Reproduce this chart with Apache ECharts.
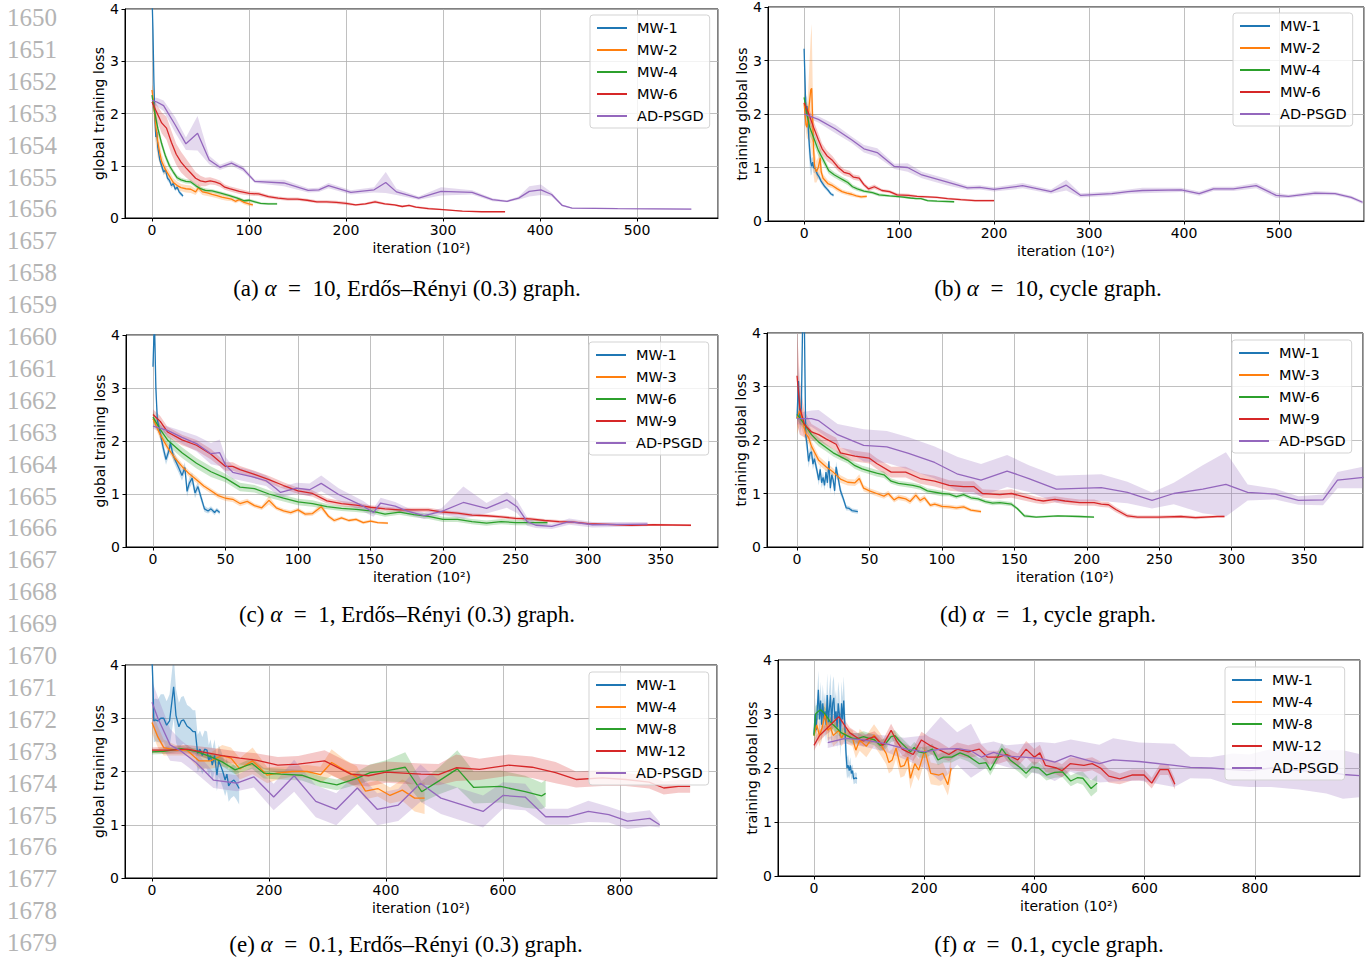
<!DOCTYPE html>
<html><head><meta charset="utf-8">
<script src="https://cdn.jsdelivr.net/npm/echarts@6/dist/echarts.min.js"></script>
<style>html,body{margin:0;padding:0;background:#fff}#c{width:1367px;height:962px}</style>
</head><body><div id="c"></div>
<script>
// ---------- data: each point is [iteration (10^2), mean loss, band half-width] ----------
const A_MW1=[[0,4.3,0.3],[1,3.6,0.3],[2,2.6,0.2],[3,1.9,0.15],[4,1.55,0.1],[5,1.65,0.1],[6,1.35,0.08],[8,1.12,0.07],[10,1.0,0.07],[12,0.88,0.06],[14,0.92,0.06],[16,0.76,0.05],[18,0.72,0.05],[20,0.62,0.05],[22,0.66,0.05],[24,0.55,0.04],[26,0.59,0.04],[28,0.5,0.04],[30,0.46,0.04],[32,0.42,0.03]];
const A_MW2=[[0,2.45,0.1],[2,2.15,0.3],[4,1.75,0.35],[6,1.45,0.3],[8,1.25,0.2],[10,1.08,0.15],[14,0.92,0.1],[18,0.8,0.1],[22,0.68,0.08],[26,0.62,0.08],[30,0.58,0.07],[35,0.56,0.07],[40,0.55,0.07],[45,0.5,0.06],[48,0.58,0.07],[52,0.5,0.06],[57,0.48,0.06],[62,0.45,0.05],[67,0.43,0.05],[72,0.4,0.05],[77,0.38,0.05],[82,0.36,0.04],[86,0.32,0.04],[90,0.35,0.04],[95,0.3,0.04],[100,0.27,0.04],[104,0.25,0.03]];
const A_MW4=[[0,2.35,0.08],[3,2.0,0.1],[6,1.72,0.1],[10,1.42,0.08],[14,1.18,0.07],[18,1.0,0.06],[22,0.88,0.05],[26,0.77,0.05],[30,0.73,0.04],[35,0.7,0.04],[40,0.69,0.04],[45,0.62,0.04],[50,0.56,0.04],[55,0.53,0.04],[62,0.52,0.03],[70,0.48,0.03],[80,0.43,0.03],[88,0.38,0.03],[95,0.33,0.03],[100,0.34,0.03],[106,0.31,0.03],[112,0.28,0.02],[120,0.27,0.02],[129,0.27,0.02]];
const A_MW6=[[0,2.22,0.1],[5,2.02,0.15],[10,1.82,0.2],[15,1.72,0.22],[20,1.45,0.22],[25,1.22,0.2],[30,1.07,0.2],[35,0.96,0.18],[40,0.86,0.15],[45,0.76,0.12],[50,0.71,0.1],[55,0.69,0.08],[60,0.71,0.07],[65,0.69,0.06],[70,0.66,0.06],[75,0.59,0.05],[80,0.56,0.05],[90,0.51,0.05],[100,0.47,0.04],[110,0.46,0.04],[120,0.41,0.03],[130,0.38,0.03],[140,0.36,0.03],[150,0.36,0.03],[160,0.34,0.03],[170,0.31,0.03],[180,0.31,0.03],[190,0.3,0.03],[200,0.28,0.03],[210,0.25,0.02],[220,0.27,0.02],[230,0.31,0.03],[240,0.27,0.02],[250,0.25,0.02],[258,0.22,0.02],[265,0.24,0.02],[272,0.21,0.02],[285,0.18,0.02],[300,0.16,0.01],[320,0.13,0.01],[340,0.12,0.01],[364,0.12,0.01]];
const A_AD=[[0,2.25,0.05],[5,2.22,0.08],[12,2.15,0.1],[24,1.78,0.15],[35,1.42,0.12],[47,1.62,0.33],[59,1.11,0.08],[70,0.97,0.05],[82,1.05,0.05],[94,0.94,0.05],[106,0.7,0.03],[136,0.67,0.06],[161,0.53,0.04],[172,0.54,0.04],[182,0.62,0.05],[205,0.49,0.04],[229,0.54,0.05],[241,0.68,0.2],[252,0.5,0.06],[275,0.38,0.03],[298,0.51,0.08],[330,0.49,0.04],[351,0.35,0.03],[366,0.32,0.02],[378,0.38,0.03],[389,0.51,0.1],[401,0.54,0.1],[412,0.45,0.04],[423,0.24,0.02],[433,0.19,0.01],[480,0.18,0.01],[556,0.17,0.01]];

const B_MW1=[[0,3.22,0.1],[1,2.6,0.4],[2,2.0,0.3],[3,2.15,0.2],[4,1.85,0.25],[5,1.55,0.3],[6,1.3,0.3],[7,1.1,0.25],[8,1.02,0.15],[9,1.1,0.1],[10,1.0,0.1],[12,0.97,0.08],[14,0.87,0.07],[16,0.82,0.06],[18,0.74,0.05],[20,0.69,0.05],[22,0.64,0.04],[24,0.6,0.04],[26,0.56,0.04],[28,0.51,0.03],[31,0.48,0.03]];
const B_MW2=[[0,2.2,0.1],[2,1.8,0.15],[3,1.75,0.2],[5,2.1,0.6],[7,2.45,1.0],[8,2.48,1.2],[9,1.9,0.7],[10,1.35,0.5],[11,1.02,0.3],[13,0.92,0.2],[15,1.0,0.2],[17,1.18,0.3],[18,0.92,0.15],[20,0.8,0.08],[25,0.7,0.06],[30,0.66,0.05],[35,0.6,0.05],[40,0.55,0.04],[45,0.52,0.04],[50,0.5,0.04],[55,0.47,0.03],[60,0.45,0.03],[66,0.46,0.03]];
const B_MW4=[[0,2.31,0.1],[3,2.0,0.15],[6,1.75,0.15],[10,1.56,0.12],[15,1.32,0.1],[20,1.15,0.08],[26,0.94,0.06],[32,0.86,0.05],[38,0.8,0.05],[42,0.76,0.05],[46,0.72,0.05],[51,0.64,0.04],[56,0.6,0.04],[63,0.56,0.03],[72,0.53,0.03],[79,0.49,0.03],[90,0.47,0.02],[102,0.45,0.02],[112,0.43,0.02],[118,0.42,0.02],[123,0.42,0.02],[130,0.38,0.02],[140,0.37,0.02],[158,0.36,0.02]];
const B_MW6=[[0,2.21,0.1],[5,2.0,0.12],[10,1.75,0.12],[15,1.52,0.12],[19,1.35,0.1],[24,1.22,0.1],[30,1.13,0.08],[36,1.0,0.07],[42,0.91,0.06],[48,0.88,0.06],[52,0.82,0.05],[58,0.8,0.05],[63,0.68,0.04],[68,0.6,0.04],[74,0.64,0.04],[82,0.57,0.03],[90,0.55,0.03],[98,0.49,0.03],[110,0.48,0.03],[119,0.46,0.02],[130,0.45,0.02],[140,0.44,0.02],[151,0.42,0.02],[165,0.4,0.02],[180,0.38,0.02],[200,0.38,0.02]];
const B_AD=[[0,2.0,0.05],[15,1.9,0.06],[33,1.72,0.08],[50,1.52,0.06],[63,1.35,0.07],[77,1.28,0.08],[95,1.02,0.05],[109,1.0,0.08],[124,0.86,0.06],[150,0.73,0.06],[172,0.62,0.04],[185,0.63,0.04],[200,0.59,0.04],[230,0.66,0.05],[260,0.55,0.04],[276,0.67,0.1],[291,0.48,0.04],[324,0.51,0.04],[341,0.55,0.04],[356,0.57,0.05],[397,0.58,0.04],[416,0.51,0.04],[431,0.6,0.04],[452,0.6,0.04],[476,0.66,0.05],[497,0.48,0.05],[510,0.46,0.03],[538,0.52,0.04],[559,0.51,0.03],[576,0.44,0.03],[588,0.35,0.03]];

const C_MW1=[[0,3.4,0.1],[1,4.3,0.2],[2,3.0,0.2],[3,2.4,0.15],[5,2.15,0.12],[7,1.88,0.12],[9,1.65,0.1],[11,1.82,0.1],[12,1.96,0.1],[14,1.72,0.1],[16,1.6,0.1],[18,1.48,0.1],[20,1.35,0.1],[22,1.5,0.1],[23.5,1.05,0.1],[25,1.2,0.1],[27,1.3,0.1],[29,1.02,0.1],[31,1.14,0.08],[33,0.95,0.08],[35.5,0.72,0.06],[38,0.68,0.05],[40,0.72,0.05],[42.5,0.65,0.05],[44,0.7,0.04],[46,0.65,0.04]];
const C_MW3=[[0,2.42,0.08],[5,2.12,0.08],[10,1.88,0.07],[15,1.68,0.07],[20,1.52,0.06],[25,1.38,0.06],[30,1.27,0.06],[35,1.15,0.05],[40,1.06,0.05],[45,0.97,0.05],[50,0.92,0.05],[55,0.9,0.05],[60,0.82,0.05],[65,0.86,0.05],[70,0.78,0.04],[75,0.74,0.04],[80,0.88,0.08],[85,0.74,0.04],[90,0.68,0.04],[95,0.65,0.04],[100,0.7,0.04],[105,0.62,0.04],[110,0.63,0.04],[116,0.76,0.06],[121,0.58,0.04],[125,0.5,0.04],[130,0.55,0.03],[135,0.5,0.03],[140,0.52,0.03],[145,0.46,0.03],[150,0.49,0.03],[155,0.46,0.02],[162,0.45,0.02]];
const C_MW6=[[0,2.45,0.1],[5,2.22,0.1],[10,2.02,0.1],[20,1.78,0.1],[30,1.58,0.1],[40,1.42,0.1],[50,1.3,0.08],[60,1.13,0.08],[70,1.1,0.07],[80,1.0,0.07],[90,0.92,0.06],[100,0.85,0.06],[110,0.82,0.06],[120,0.76,0.05],[130,0.73,0.05],[140,0.71,0.05],[150,0.68,0.05],[160,0.62,0.05],[170,0.66,0.05],[180,0.61,0.05],[190,0.58,0.05],[200,0.52,0.05],[210,0.52,0.05],[220,0.48,0.05],[230,0.45,0.05],[240,0.48,0.05],[250,0.46,0.05],[260,0.46,0.05],[272,0.46,0.05]];
const C_MW9=[[0,2.5,0.1],[5,2.37,0.1],[10,2.17,0.1],[20,2.02,0.1],[30,1.92,0.1],[40,1.75,0.1],[50,1.52,0.08],[55,1.52,0.08],[60,1.46,0.07],[70,1.37,0.07],[80,1.27,0.07],[90,1.16,0.06],[100,1.06,0.06],[110,1.01,0.06],[120,0.87,0.05],[130,0.82,0.05],[140,0.79,0.05],[150,0.75,0.04],[160,0.72,0.04],[170,0.7,0.04],[180,0.7,0.04],[190,0.7,0.04],[200,0.66,0.04],[210,0.64,0.03],[220,0.6,0.03],[230,0.59,0.03],[240,0.57,0.03],[250,0.54,0.03],[260,0.53,0.03],[270,0.5,0.03],[280,0.48,0.03],[290,0.47,0.03],[300,0.44,0.02],[310,0.43,0.02],[320,0.42,0.02],[330,0.41,0.02],[345,0.42,0.02],[371,0.41,0.02]];
const C_AD=[[0,2.28,0.05],[10,2.2,0.08],[20,2.07,0.12],[30,1.95,0.15],[40,1.76,0.2],[46,1.78,0.25],[50,1.55,0.15],[55,1.41,0.12],[68,1.33,0.12],[78,1.25,0.1],[85,1.1,0.1],[88,1.03,0.1],[99,1.11,0.1],[108,1.08,0.12],[116,1.2,0.15],[128,0.99,0.12],[145,0.77,0.1],[152,0.65,0.08],[157,0.83,0.1],[167,0.77,0.08],[176,0.67,0.06],[187,0.59,0.06],[199,0.67,0.06],[214,0.84,0.3],[230,0.73,0.1],[244,0.89,0.15],[251,0.76,0.12],[258,0.48,0.08],[264,0.41,0.05],[275,0.39,0.05],[287,0.48,0.06],[303,0.42,0.05],[341,0.43,0.04]];

const D_MW1=[[0,2.4,0.2],[1,3.1,0.3],[2,2.4,0.3],[3,2.6,0.3],[4,4.4,0.4],[5,4.4,0.4],[6,2.1,0.2],[7,1.9,0.15],[8,1.6,0.12],[9,1.75,0.12],[10,1.78,0.12],[11,1.55,0.1],[12,1.65,0.1],[14,1.4,0.1],[15,1.25,0.1],[16,1.45,0.1],[17,1.2,0.1],[18,1.3,0.1],[19,1.15,0.1],[20,1.4,0.1],[21,1.2,0.1],[22,1.6,0.1],[23,1.1,0.1],[24,1.35,0.1],[25,1.25,0.1],[26,1.05,0.1],[27,1.5,0.1],[28,1.35,0.1],[30,1.05,0.08],[32,0.9,0.06],[34,0.73,0.05],[36,0.72,0.04],[38,0.68,0.04],[40,0.67,0.04],[42,0.66,0.04]];
const D_MW3=[[0,2.4,0.3],[2,2.55,0.25],[4,2.35,0.2],[6,2.12,0.15],[8,2.05,0.12],[10,1.88,0.1],[15,1.62,0.08],[20,1.5,0.08],[25,1.4,0.07],[30,1.27,0.07],[35,1.21,0.06],[40,1.2,0.06],[43,1.28,0.08],[46,1.1,0.06],[50,1.05,0.05],[55,1.0,0.05],[60,0.95,0.05],[63,1.0,0.05],[67,0.88,0.05],[70,0.93,0.05],[75,0.9,0.05],[78,0.85,0.05],[82,0.97,0.06],[85,0.87,0.05],[88,0.92,0.05],[92,0.78,0.04],[95,0.8,0.04],[100,0.76,0.04],[105,0.75,0.04],[110,0.73,0.04],[115,0.75,0.04],[120,0.69,0.03],[127,0.66,0.03]];
const D_MW6=[[0,2.48,0.1],[5,2.3,0.1],[10,2.1,0.08],[15,1.96,0.08],[20,1.86,0.07],[25,1.76,0.07],[30,1.69,0.07],[35,1.62,0.06],[40,1.52,0.06],[45,1.46,0.06],[50,1.42,0.06],[55,1.38,0.06],[60,1.35,0.06],[65,1.23,0.05],[70,1.19,0.05],[80,1.15,0.05],[85,1.12,0.05],[90,1.05,0.05],[100,1.0,0.05],[105,0.99,0.04],[110,0.94,0.04],[115,0.98,0.04],[120,0.92,0.04],[125,0.9,0.04],[130,0.85,0.04],[135,0.82,0.04],[140,0.83,0.04],[148,0.8,0.04],[152,0.72,0.03],[157,0.58,0.03],[165,0.56,0.02],[180,0.58,0.02],[195,0.57,0.02],[205,0.56,0.02]];
const D_MW9=[[0,3.2,0.9],[2,2.6,0.5],[5,2.3,0.25],[10,2.15,0.15],[15,2.1,0.12],[20,2.02,0.12],[27,1.92,0.12],[30,1.76,0.1],[40,1.7,0.1],[50,1.66,0.1],[55,1.56,0.1],[65,1.4,0.1],[75,1.4,0.1],[85,1.28,0.1],[95,1.23,0.1],[105,1.15,0.1],[115,1.13,0.1],[122,1.13,0.1],[128,1.0,0.08],[140,0.98,0.08],[148,1.0,0.08],[155,0.95,0.07],[165,0.88,0.06],[170,0.86,0.06],[178,0.89,0.06],[185,0.86,0.06],[195,0.83,0.06],[205,0.83,0.06],[210,0.8,0.05],[215,0.79,0.05],[220,0.7,0.05],[228,0.58,0.04],[235,0.56,0.03],[250,0.56,0.03],[265,0.57,0.03],[275,0.55,0.03],[290,0.57,0.02],[295,0.57,0.02]];
const D_AD=[[0,2.4,0.1],[10,2.4,0.15],[15,2.36,0.2],[28,2.1,0.2],[46,1.9,0.3],[62,1.87,0.3],[77,1.75,0.3],[95,1.58,0.3],[111,1.36,0.32],[127,1.25,0.3],[145,1.42,0.3],[160,1.28,0.25],[179,1.08,0.25],[210,1.11,0.25],[228,1.02,0.2],[245,0.87,0.15],[260,1.0,0.2],[280,1.08,0.45],[296,1.17,0.6],[311,1.02,0.15],[330,0.99,0.1],[346,0.87,0.08],[363,0.88,0.1],[373,1.25,0.15],[391,1.3,0.2]];

const E_MW1=[[0,4.1,0.4],[2,3.5,0.5],[3,2.95,0.4],[6,2.97,0.4],[10,2.95,0.4],[15,3.0,0.45],[20,3.0,0.45],[25,2.87,0.45],[30,2.95,0.5],[37,3.59,0.6],[41,3.05,0.5],[46,2.84,0.45],[50,2.95,0.45],[54,2.97,0.45],[60,2.85,0.4],[65,2.81,0.4],[70,2.75,0.4],[74,2.75,0.4],[78,2.34,0.35],[82,2.42,0.35],[86,2.3,0.35],[90,2.42,0.35],[94,2.4,0.35],[97,2.2,0.3],[100,2.3,0.3],[103,2.12,0.3],[107,2.3,0.3],[111,1.93,0.3],[114,2.2,0.3],[117,2.12,0.3],[121,2.0,0.3],[125,1.84,0.3],[128,1.95,0.3],[131,1.73,0.3],[135,1.8,0.3],[140,1.84,0.3],[144,1.78,0.3],[149,1.68,0.3]];
const E_MW4=[[0,2.92,0.2],[10,2.65,0.2],[20,2.45,0.15],[40,2.4,0.1],[60,2.4,0.1],[80,2.2,0.15],[100,2.2,0.15],[120,2.3,0.2],[135,2.25,0.2],[150,2.05,0.2],[172,2.2,0.25],[197,1.93,0.15],[215,1.97,0.12],[240,2.0,0.1],[265,2.0,0.12],[288,1.94,0.15],[307,2.17,0.25],[330,2.02,0.2],[350,1.9,0.2],[365,1.63,0.15],[386,1.68,0.15],[407,1.55,0.15],[428,1.65,0.2],[449,1.5,0.25],[466,1.5,0.3]];
const E_MW8=[[0,2.37,0.05],[20,2.38,0.05],[50,2.43,0.05],[75,2.38,0.05],[100,2.28,0.07],[120,2.18,0.08],[142,2.03,0.08],[171,2.15,0.1],[191,1.97,0.1],[220,1.95,0.1],[256,1.93,0.1],[288,1.81,0.1],[316,1.75,0.1],[350,1.87,0.12],[373,1.98,0.15],[400,2.01,0.2],[433,2.08,0.28],[461,1.62,0.2],[490,1.82,0.25],[522,2.05,0.35],[550,1.7,0.3],[596,1.72,0.3],[638,1.62,0.3],[666,1.54,0.25],[673,1.59,0.25]];
const E_MW12=[[0,2.4,0.05],[30,2.4,0.07],[60,2.42,0.08],[90,2.36,0.1],[120,2.3,0.12],[150,2.25,0.12],[180,2.21,0.13],[215,2.12,0.15],[250,2.14,0.15],[295,2.2,0.2],[340,1.95,0.2],[370,1.92,0.2],[400,1.99,0.2],[430,1.97,0.2],[460,1.95,0.2],[490,1.94,0.2],[520,2.07,0.25],[560,2.04,0.2],[610,2.12,0.2],[650,2.08,0.2],[690,1.98,0.2],[725,1.85,0.15],[770,1.88,0.15],[810,1.85,0.12],[850,1.8,0.12],[875,1.69,0.12],[900,1.72,0.12],[920,1.72,0.12]];
const E_AD=[[0,3.3,0.4],[10,3.0,0.4],[31,2.5,0.3],[50,2.38,0.2],[74,2.18,0.2],[105,1.84,0.15],[145,1.78,0.15],[174,1.9,0.2],[208,1.52,0.25],[243,1.92,0.3],[280,1.44,0.3],[315,1.29,0.3],[351,1.69,0.3],[385,1.29,0.3],[421,1.37,0.3],[459,1.78,0.35],[494,1.5,0.3],[566,1.25,0.3],[600,1.55,0.25],[638,1.52,0.25],[673,1.15,0.15],[711,1.15,0.15],[746,1.25,0.2],[781,1.19,0.15],[813,1.07,0.15],[851,1.12,0.15],[868,1.0,0.05]];

const F_MW1=[[0,2.62,0.2],[2,3.0,0.3],[4,2.7,0.3],[6,3.1,0.3],[8,3.45,0.35],[10,2.9,0.35],[12,3.25,0.35],[14,2.8,0.35],[16,3.2,0.35],[18,2.9,0.35],[20,3.05,0.35],[22,2.8,0.35],[24,3.35,0.4],[26,2.85,0.4],[28,3.1,0.4],[30,3.35,0.4],[32,2.8,0.4],[34,3.2,0.4],[36,3.3,0.4],[38,2.9,0.4],[40,3.05,0.4],[42,2.75,0.4],[44,3.2,0.4],[46,3.0,0.4],[48,2.6,0.4],[50,3.2,0.4],[52,2.9,0.4],[54,3.25,0.45],[56,2.8,0.45],[58,2.3,0.3],[60,2.0,0.2],[62,2.05,0.2],[64,1.95,0.15],[66,2.05,0.15],[68,1.9,0.12],[70,1.95,0.12],[72,1.8,0.1],[76,1.82,0.1],[78,1.8,0.1]];
const F_MW4=[[0,2.6,0.15],[5,2.8,0.2],[10,2.6,0.2],[15,2.75,0.2],[20,3.0,0.25],[25,2.7,0.2],[30,2.75,0.2],[35,2.6,0.2],[40,2.65,0.2],[45,2.7,0.2],[50,2.55,0.15],[55,2.65,0.15],[60,2.6,0.15],[70,2.55,0.15],[76,2.33,0.15],[83,2.52,0.2],[95,2.4,0.2],[109,2.61,0.2],[120,2.45,0.2],[131,2.27,0.2],[136,2.1,0.2],[142,2.15,0.2],[149,2.37,0.2],[157,2.02,0.2],[164,2.05,0.2],[170,2.2,0.2],[175,1.81,0.2],[183,2.08,0.2],[190,1.96,0.2],[201,2.33,0.2],[212,1.9,0.2],[227,1.87,0.2],[234,1.9,0.2],[243,1.69,0.2],[249,2.0,0.2]];
const F_MW8=[[0,2.6,0.15],[3,3.0,0.15],[8,3.05,0.15],[12,3.08,0.12],[20,3.0,0.12],[30,2.85,0.1],[40,2.75,0.1],[50,2.65,0.1],[60,2.6,0.1],[70,2.55,0.1],[80,2.55,0.1],[90,2.58,0.1],[100,2.55,0.1],[110,2.52,0.1],[120,2.42,0.1],[130,2.45,0.1],[140,2.58,0.1],[147,2.6,0.1],[155,2.5,0.1],[165,2.4,0.1],[175,2.3,0.1],[182,2.38,0.1],[190,2.3,0.1],[200,2.28,0.1],[215,2.35,0.1],[225,2.15,0.1],[235,2.2,0.1],[250,2.2,0.1],[265,2.28,0.1],[280,2.22,0.1],[300,2.08,0.1],[312,2.1,0.1],[320,1.96,0.1],[333,2.2,0.1],[341,2.36,0.1],[356,2.15,0.1],[375,2.0,0.1],[385,1.9,0.1],[396,2.02,0.1],[408,2.0,0.1],[422,1.87,0.1],[437,1.92,0.1],[451,1.93,0.1],[466,1.76,0.1],[478,1.82,0.1],[488,1.81,0.12],[503,1.62,0.15],[514,1.72,0.15]];
const F_MW12=[[0,2.42,0.1],[10,2.6,0.1],[20,2.7,0.1],[30,2.8,0.12],[45,2.95,0.12],[55,2.8,0.1],[65,2.65,0.1],[80,2.55,0.1],[90,2.5,0.1],[100,2.55,0.1],[110,2.58,0.1],[125,2.42,0.1],[140,2.7,0.12],[150,2.5,0.12],[160,2.35,0.12],[170,2.3,0.12],[180,2.25,0.12],[195,2.52,0.15],[210,2.42,0.15],[225,2.35,0.15],[245,2.25,0.12],[260,2.35,0.12],[280,2.3,0.12],[300,2.35,0.12],[315,2.2,0.12],[335,2.2,0.12],[350,2.25,0.12],[370,2.15,0.12],[385,2.35,0.15],[400,2.2,0.15],[410,2.28,0.15],[420,2.05,0.12],[440,2.0,0.12],[450,1.95,0.12],[465,2.08,0.12],[490,2.05,0.12],[505,2.08,0.12],[520,2.0,0.12],[535,1.85,0.12],[555,1.8,0.1],[577,1.87,0.1],[599,1.87,0.1],[613,1.72,0.1],[628,1.97,0.1],[643,1.97,0.1],[655,1.7,0.1]];
const F_AD=[[25,2.47,0.1],[57,2.55,0.1],[90,2.52,0.12],[130,2.45,0.15],[164,2.36,0.2],[200,2.3,0.3],[230,2.35,0.6],[260,2.36,0.3],[285,2.32,0.5],[304,2.2,0.25],[326,2.29,0.2],[350,2.22,0.2],[380,2.2,0.25],[410,2.18,0.3],[437,2.11,0.35],[466,2.23,0.3],[518,2.08,0.35],[543,2.15,0.4],[590,2.12,0.35],[654,2.05,0.4],[683,2.01,0.2],[720,2.0,0.2],[760,1.97,0.3],[790,1.95,0.3],[830,2.0,0.35],[880,1.95,0.35],[930,1.93,0.4],[960,1.88,0.45],[990,1.86,0.4]];

// names, labels, captions
const namesAB=['MW-1','MW-2','MW-4','MW-6','AD-PSGD'];
const namesCD=['MW-1','MW-3','MW-6','MW-9','AD-PSGD'];
const namesEF=['MW-1','MW-4','MW-8','MW-12','AD-PSGD'];
const yNames=['global training loss','training global loss','global training loss','training global loss','global training loss','training global loss'];
const xName='iteration (10²)';
const xTickSteps=[100,100,50,50,200,200];
const yTicks=[0,1,2,3,4];
const captions=['(a) {i|α}\u2002=\u200210, Erdős–Rényi (0.3) graph.','(b) {i|α}\u2002=\u200210, cycle graph.','(c) {i|α}\u2002=\u20021, Erdős–Rényi (0.3) graph.','(d) {i|α}\u2002=\u20021, cycle graph.','(e) {i|α}\u2002=\u20020.1, Erdős–Rényi (0.3) graph.','(f) {i|α}\u2002=\u20020.1, cycle graph.'];
const lineNumbers=[];for(let n=1650;n<=1679;n++)lineNumbers.push(String(n));

// ---------- layout / style ----------
const COLORS=['#1f77b4','#ff7f0e','#2ca02c','#d62728','#9467bd'];
const SANS='DejaVu Sans', SERIF='Liberation Serif';
const panels=[
 {g:{left:125,top:9,width:593,height:209}, x:[-27.8,583.5], names:namesAB, data:[A_MW1,A_MW2,A_MW4,A_MW6,A_AD], leg:{left:590,top:15}, cap:[407,288], yGap:18},
 {g:{left:768,top:7,width:596,height:214}, x:[-38,589.5], names:namesAB, data:[B_MW1,B_MW2,B_MW4,B_MW6,B_AD], leg:{left:1233,top:13}, cap:[1048,288], yGap:19},
 {g:{left:126,top:335,width:592,height:212}, x:[-18.6,389.6], names:namesCD, data:[C_MW1,C_MW3,C_MW6,C_MW9,C_AD], leg:{left:589,top:342}, cap:[407,614], yGap:19},
 {g:{left:767,top:333,width:596,height:214}, x:[-20.7,390.6], names:namesCD, data:[D_MW1,D_MW3,D_MW6,D_MW9,D_AD], leg:{left:1232,top:340}, cap:[1048,614], yGap:18},
 {g:{left:125,top:665,width:592,height:213}, x:[-46.2,966], names:namesEF, data:[E_MW1,E_MW4,E_MW8,E_MW12,E_AD], leg:{left:589,top:672}, cap:[406,944], yGap:18},
 {g:{left:778,top:660,width:582,height:216}, x:[-65.3,991], names:namesEF, data:[F_MW1,F_MW4,F_MW8,F_MW12,F_AD], leg:{left:1225,top:667}, cap:[1049,944], yGap:19}
];

function hexA(hex,a){const n=parseInt(hex.slice(1),16);return 'rgba('+(n>>16&255)+','+(n>>8&255)+','+(n&255)+','+a+')';}

const grids=[],xAxes=[],yAxes=[],series=[],legends=[],graphics=[];
const tickLabel={color:'#000',fontSize:14,fontFamily:SANS};
panels.forEach((p,i)=>{
  grids.push(Object.assign({show:true,borderColor:'#000',borderWidth:1,containLabel:false,outerBoundsMode:'none'},p.g));
  xAxes.push({type:'value',gridIndex:i,min:p.x[0],max:p.x[1],minInterval:xTickSteps[i],maxInterval:xTickSteps[i],
    name:xName,nameLocation:'middle',nameGap:23,nameTextStyle:{color:'#000',fontSize:14,fontFamily:SANS},
    axisLine:{show:true,onZero:false,lineStyle:{color:'#000',width:1}},
    axisTick:{show:true,inside:false,length:3.5,lineStyle:{color:'#000',width:1}},
    axisLabel:Object.assign({showMinLabel:false,showMaxLabel:false,margin:5},tickLabel),
    splitLine:{show:true,lineStyle:{color:'#b0b0b0',width:0.8}}});
  yAxes.push({type:'value',gridIndex:i,min:yTicks[0],max:yTicks[yTicks.length-1],interval:1,
    name:yNames[i],nameLocation:'middle',nameGap:p.yGap,nameRotate:90,nameTextStyle:{color:'#000',fontSize:14,fontFamily:SANS},
    axisLine:{show:true,onZero:false,lineStyle:{color:'#000',width:1}},
    axisTick:{show:true,inside:false,length:3.5,lineStyle:{color:'#000',width:1}},
    axisLabel:Object.assign({margin:6},tickLabel),
    splitLine:{show:true,lineStyle:{color:'#b0b0b0',width:0.8}}});
  p.data.forEach((pts,j)=>{
    const col=COLORS[j];
    series.push({type:'custom',xAxisIndex:i,yAxisIndex:i,data:pts,clip:true,silent:true,z:1,
      encode:{x:0,y:1},
      renderItem:(params,api)=>{
        if(params.dataIndex!==0) return null;
        const up=pts.map(q=>api.coord([q[0],q[1]+q[2]]));
        const lo=pts.map(q=>api.coord([q[0],q[1]-q[2]])).reverse();
        return {type:'polygon',shape:{points:up.concat(lo)},style:{fill:hexA(col,0.25),stroke:null}};
      }});
  });
  p.data.forEach((pts,j)=>{
    const col=COLORS[j];
    series.push({type:'line',name:p.names[j],xAxisIndex:i,yAxisIndex:i,data:pts.map(q=>[q[0],q[1]]),
      showSymbol:false,symbol:'none',color:col,lineStyle:{color:col,width:1.3},z:2,clip:true,silent:true,animation:false});
  });
  legends.push({orient:'vertical',left:p.leg.left,top:p.leg.top,icon:'rect',itemWidth:30,itemHeight:2,itemGap:6,
    padding:[5,6,4,7],borderColor:'#d3d3d3',borderWidth:1,borderRadius:3,backgroundColor:'rgba(255,255,255,0.8)',
    selectedMode:false,z:10,
    textStyle:{fontSize:14.5,fontFamily:SANS,color:'#000',lineHeight:16,padding:[0,0,0,5]},
    data:p.names.map((n,j)=>({name:n,icon:'rect',itemStyle:{color:COLORS[j],borderWidth:0}}))});
  graphics.push({type:'text',x:p.cap[0],y:p.cap[1],silent:true,
    style:{text:captions[i],fill:'#000',fontSize:23,fontFamily:SERIF,align:'center',verticalAlign:'middle',textAlign:'center',textVerticalAlign:'middle',
      rich:{i:{fontStyle:'italic',fontSize:23,fontFamily:SERIF,fill:'#000'}}}});
});
lineNumbers.forEach((t,k)=>{
  graphics.push({type:'text',x:7,y:17.5+k*31.9,silent:true,
    style:{text:t,fill:'#b4b4b4',fontSize:25,fontFamily:SERIF,align:'left',verticalAlign:'middle',textAlign:'left',textVerticalAlign:'middle'}});
});

const chart=echarts.init(document.getElementById('c'),null,{renderer:'svg',width:1367,height:962});
chart.setOption({animation:false,backgroundColor:'#fff',grid:grids,xAxis:xAxes,yAxis:yAxes,series:series,legend:legends,graphic:{elements:graphics}});
</script></body></html>
